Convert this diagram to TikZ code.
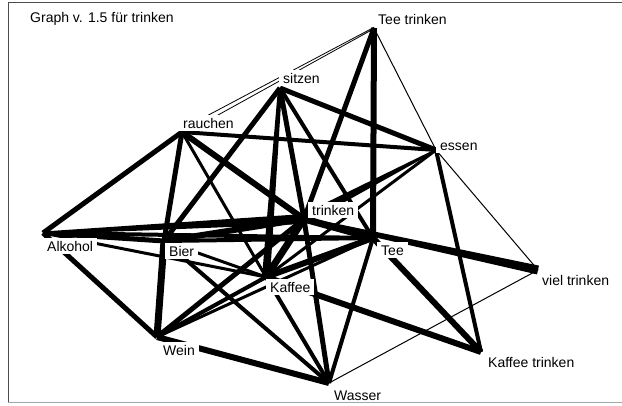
\documentclass[tikz,border=0pt]{standalone}
\usepackage{fontspec}
\setmainfont{Liberation Sans}
\usetikzlibrary{calc}
\newcommand\taper[5][fill=black]{\path[#1] ($(#2)!#4!90:(#3)$) -- ($(#3)!#5!-90:(#2)$) -- ($(#3)!#5!90:(#2)$) -- ($(#2)!#4!-90:(#3)$) -- cycle;}
\begin{document}
\begin{tikzpicture}[x=1pt,y=-1pt,
  lbl/.style={fill=white,inner xsep=4pt,inner ysep=2.5pt,text height=11pt,text depth=0pt,anchor=base west,font=\fontsize{14pt}{16pt}\selectfont},
  ed/.style={draw=black,line width=#1,line cap=butt}]
\useasboundingbox (0,0) rectangle (622,405);
% anchor points
\coordinate (TT) at (374,28);
\coordinate (S) at (280,88);
\coordinate (R) at (182,132);
\coordinate (E) at (436,150);
\coordinate (Tr) at (304,219);
\coordinate (A) at (43,233);
\coordinate (B) at (164,241);
\coordinate (T) at (373,238);
\coordinate (K) at (266,277);
\coordinate (VT) at (538,270);
\coordinate (W) at (157,337);
\coordinate (KT) at (481,352);
\coordinate (Wa) at (329,383);
% edges
\taper[fill=white,draw=black,line width=0.8pt]{TT}{R}{0.6pt}{2.6pt}
\draw[ed=1pt] (TT) -- (E);
\draw[ed=1pt] (E) -- (VT);
\draw[ed=1pt] (Wa) -- (VT);
\draw[ed=5pt] (TT) -- (Tr);
\draw[ed=6pt] (TT) -- (T);
\draw[ed=5pt] (S) -- (E);
\draw[ed=5pt] (S) -- (B);
\taper{S}{K}{2pt}{4pt}
\draw[ed=5pt] (S) -- (Tr);
\draw[ed=4pt] (S) -- (T);
\draw[ed=4pt] (R) -- (E);
\draw[ed=5pt] (R) -- (A);
\draw[ed=5pt] (R) -- (B);
\draw[ed=3pt] (R) -- (K);
\draw[ed=6pt] (R) -- (Tr);
\draw[ed=4pt] (E) -- (KT);
\taper{E}{Tr}{1pt}{5pt}
\draw[ed=3pt] (E) -- (K);
\taper{A}{Tr}{1.5pt}{5pt}
\draw[ed=5pt] (A) -- (B);
\draw[ed=4pt] (A) -- (T);
\draw[ed=3pt] (A) -- (K);
\draw[ed=5pt] (A) -- (W);
\draw[ed=7pt] (B) -- (W);
\draw[ed=6pt] (B) -- (Tr);
\draw[ed=3pt] (B) -- (K);
\draw[ed=4pt] (B) -- (Wa);
\draw[ed=4pt] (B) -- (T);
\draw[ed=6pt] (W) -- (Wa);
\draw[ed=5pt] (W) -- (Tr);
\draw[ed=4pt] (W) -- (K);
\draw[ed=3pt] (W) -- (T);
\draw[ed=4pt] (K) -- (Wa);
\draw[ed=6pt] (K) -- (KT);
\draw[ed=7pt] (K) -- (Tr);
\draw[ed=6pt] (K) -- (T);
\draw[ed=5pt] (Tr) -- (Wa);
\draw[ed=7pt] (Tr) -- (T);
\taper{Tr}{VT}{2pt}{4.5pt}
\draw[ed=6pt] (T) -- (KT);
\draw[ed=4pt] (T) -- (Wa);
% labels
\node[lbl] (lTitle) at (26,22.5) {Graph v. 1.5 für trinken};
\node[lbl] (lTT) at (374,24.5) {Tee trinken};
\node[lbl] (lS) at (279,83) {sitzen};
\node[lbl] (lR) at (179,128) {rauchen};
\node[lbl] (lE) at (436,150) {essen};
\node[lbl] (lTr) at (308,215) {trinken};
\node[lbl] (lA) at (43,251) {Alkohol};
\node[lbl] (lB) at (165,256) {Bier};
\node[lbl] (lT) at (377,255) {Tee};
\node[lbl] (lK) at (266,292) {Kaffee};
\node[lbl] (lVT) at (538,285) {viel trinken};
\node[lbl] (lW) at (159,355) {Wein};
\node[lbl] (lKT) at (484,367) {Kaffee trinken};
\node[lbl] (lWa) at (330,400) {Wasser};
% frame
\draw[line width=1pt,draw=gray!70] (8,402) -- (624,402);
\draw[line width=1pt,draw=black!70] (8,402) -- (8,2) -- (624,2);
\end{tikzpicture}
\end{document}
